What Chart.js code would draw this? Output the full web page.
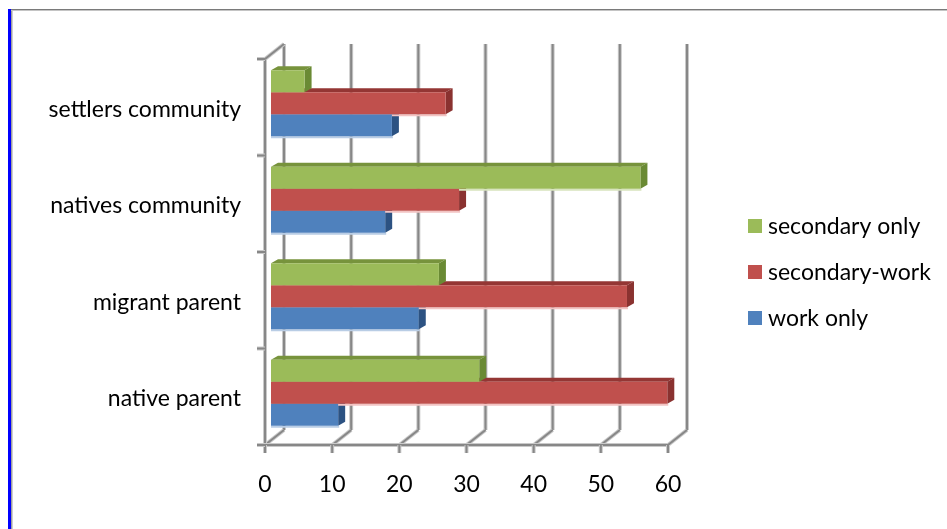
<!DOCTYPE html>
<html>
<head>
<meta charset="utf-8">
<script src="https://cdn.jsdelivr.net/npm/chart.js@4.4.1/dist/chart.umd.min.js"></script>
<style>
  html, body { margin: 0; padding: 0; background: #ffffff; }
  #wrap { position: relative; width: 947px; height: 529px; }
</style>
</head>
<body>
<div id="wrap"><canvas id="c" width="947" height="529"></canvas></div>
<script>
// Categories (top to bottom) and series values
const categories = ['settlers community', 'natives community', 'migrant parent', 'native parent'];
const secondaryOnly = [5, 55, 25, 31];
const secondaryWork = [26, 28, 53, 59];
const workOnly = [18, 17, 22, 10];
const xTicks = [0, 10, 20, 30, 40, 50, 60];
const seriesNames = ['secondary only', 'secondary-work', 'work only'];

// Face colours: front, top, side, under-glow
const palette = [
  { front: '#9BBB59', top: '#77933C', side: '#6A8A34', glow: '#D7E4BD' },
  { front: '#C0504D', top: '#943634', side: '#8A3230', glow: '#F2C4C3' },
  { front: '#4F81BD', top: '#385D8A', side: '#2C5282', glow: '#B9CDE5' }
];

const FONT = { family: 'Lato', size: 23 };
const FRONT = { dx: -6, dy: 4 };    // front edge of the box
const BACK = { dx: 13, dy: -11 };   // back wall
const DEPTH = { dx: 7, dy: -4 };    // bar depth

function gridLine(ctx, x1, y1, x2, y2) {
  ctx.lineCap = 'butt';
  ctx.strokeStyle = '#c9c9c9';
  ctx.lineWidth = 4;
  ctx.beginPath(); ctx.moveTo(x1, y1); ctx.lineTo(x2, y2); ctx.stroke();
  ctx.strokeStyle = '#878787';
  ctx.lineWidth = 2;
  ctx.beginPath(); ctx.moveTo(x1, y1); ctx.lineTo(x2, y2); ctx.stroke();
}

function poly(ctx, pts, color) {
  ctx.fillStyle = color;
  ctx.beginPath();
  ctx.moveTo(pts[0][0], pts[0][1]);
  for (let i = 1; i < pts.length; i++) ctx.lineTo(pts[i][0], pts[i][1]);
  ctx.closePath();
  ctx.fill();
}

const box3d = {
  id: 'box3d',
  beforeDraw(chart) {
    const ctx = chart.ctx;
    ctx.save();
    ctx.fillStyle = '#ffffff';
    ctx.fillRect(0, 0, chart.width, chart.height);
    // page frame
    ctx.fillStyle = '#0000ff';
    ctx.fillRect(8, 9, 3, chart.height - 9);
    ctx.fillStyle = '#a0a0a0';
    ctx.fillRect(11, 9, 1.5, chart.height - 9);
    ctx.fillStyle = '#7a7a7a';
    ctx.fillRect(11, 9, chart.width - 11, 1);
    ctx.fillStyle = '#c4c4c4';
    ctx.fillRect(11, 10, chart.width - 11, 1);
    ctx.restore();
  },
  beforeDatasetsDraw(chart) {
    const ctx = chart.ctx;
    const xs = chart.scales.x;
    const top = chart.chartArea.top, bottom = chart.chartArea.bottom;
    ctx.save();
    // back wall gridlines and floor diagonals
    xTicks.forEach(v => {
      const px = xs.getPixelForValue(v);
      gridLine(ctx, px + BACK.dx, top + BACK.dy, px + BACK.dx, bottom + BACK.dy);
      gridLine(ctx, px + BACK.dx, bottom + BACK.dy, px + FRONT.dx, bottom + FRONT.dy);
    });
    const x0 = xs.getPixelForValue(xTicks[0]);
    const xN = xs.getPixelForValue(xTicks[xTicks.length - 1]);
    // left wall
    gridLine(ctx, x0 + FRONT.dx, top + FRONT.dy, x0 + FRONT.dx, bottom + FRONT.dy);
    gridLine(ctx, x0 + FRONT.dx, top + FRONT.dy, x0 + BACK.dx, top + BACK.dy);
    // front floor edge
    gridLine(ctx, x0 + FRONT.dx, bottom + FRONT.dy, xN + FRONT.dx, bottom + FRONT.dy);
    // value-axis tick marks
    xTicks.forEach(v => {
      const px = xs.getPixelForValue(v) + FRONT.dx;
      gridLine(ctx, px, bottom + FRONT.dy, px, bottom + FRONT.dy + 8);
    });
    // category-axis tick marks at band boundaries
    const n = categories.length;
    const step = (bottom - top) / n;
    for (let i = 0; i <= n; i++) {
      const py = top + i * step + FRONT.dy;
      gridLine(ctx, x0 + FRONT.dx - 8, py, x0 + FRONT.dx, py);
    }
    // bar top and side faces, drawn beneath the front faces
    for (let d = chart.data.datasets.length - 1; d >= 0; d--) {
      const meta = chart.getDatasetMeta(d);
      const col = palette[d];
      meta.data.forEach(el => {
        const p = el.getProps(['x', 'y', 'base', 'height'], true);
        const xa = p.base, xb = p.x;
        const yT = p.y - p.height / 2, yB = p.y + p.height / 2;
        // soft glow under the bar
        ctx.fillStyle = col.glow;
        ctx.fillRect(xa, yB, xb - xa + 1, 2);
        poly(ctx, [[xa, yT], [xb, yT], [xb + DEPTH.dx, yT + DEPTH.dy], [xa + DEPTH.dx, yT + DEPTH.dy]], col.top);
        poly(ctx, [[xb, yT], [xb + DEPTH.dx, yT + DEPTH.dy], [xb + DEPTH.dx, yB + DEPTH.dy], [xb, yB]], col.side);
      });
    }
    ctx.restore();
  },
  afterDraw(chart) {
    // legend
    const ctx = chart.ctx;
    ctx.save();
    ctx.font = FONT.size + 'px ' + FONT.family;
    ctx.textBaseline = 'middle';
    ctx.textAlign = 'left';
    chart.data.datasets.forEach((ds, i) => {
      const cy = 226 + i * 46;
      ctx.fillStyle = ds.backgroundColor;
      ctx.fillRect(748, cy - 7, 14, 14);
      ctx.fillStyle = '#000000';
      ctx.fillText(ds.label, 768, cy + 1);
    });
    ctx.restore();
  }
};

new Chart(document.getElementById('c'), {
  type: 'bar',
  data: {
    labels: categories,
    datasets: [
      { label: seriesNames[0], data: secondaryOnly, backgroundColor: palette[0].front },
      { label: seriesNames[1], data: secondaryWork, backgroundColor: palette[1].front },
      { label: seriesNames[2], data: workOnly, backgroundColor: palette[2].front }
    ]
  },
  options: {
    indexAxis: 'y',
    responsive: false,
    animation: false,
    devicePixelRatio: 1,
    layout: { padding: { top: 55, right: 273, bottom: 0, left: 0 } },
    datasets: { bar: { categoryPercentage: 0.684, barPercentage: 1, borderWidth: 0 } },
    plugins: { legend: { display: false }, tooltip: { enabled: false } },
    scales: {
      x: {
        type: 'linear',
        min: 0, max: 60,
        afterBuildTicks: s => { s.ticks = xTicks.map(v => ({ value: v })); },
        afterFit: s => { s.height = 88; },
        grid: { display: false, drawTicks: false },
        border: { display: false },
        ticks: { font: FONT, color: '#000000', padding: 30, labelOffset: -6, maxRotation: 0 }
      },
      y: {
        type: 'category',
        afterFit: s => { s.width = 271; },
        grid: { display: false, drawTicks: false },
        border: { display: false },
        ticks: { font: FONT, color: '#000000', padding: 30, labelOffset: 6 }
      }
    }
  },
  plugins: [box3d]
});
</script>
</body>
</html>
